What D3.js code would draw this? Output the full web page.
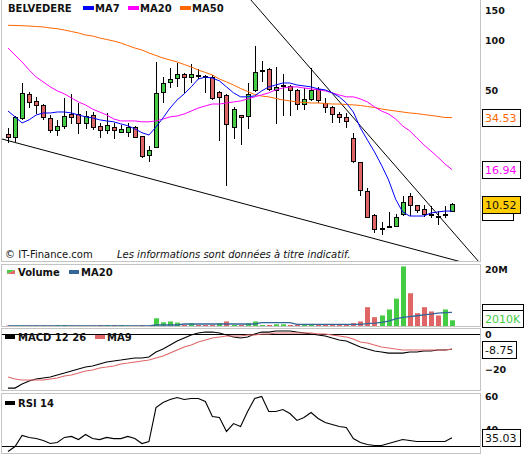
<!DOCTYPE html>
<html><head><meta charset="utf-8">
<script src="https://cdn.jsdelivr.net/npm/d3@7"></script>
<style>
body{margin:0;background:#fff}
svg{display:block}
text{font-family:"DejaVu Sans",Verdana,sans-serif}
</style>
</head><body>
<svg id="c" width="530" height="464"></svg>
<script>
// ---------- data ----------
const title = "BELVEDERE";
const opens  = [27.6,26.5,34.4,47.7,43.4,41.0,34.4,29.1,30.8,36.3, 36.3,32.0,35.8,30.8,29.1,30.4,28.4,28.4,30.4,26.8, 20.7,23.1,49.0,56.3,59.4,62.8,60.2,62.0,61.1,60.2, 49.0,47.1,30.4,35.8,35.3,50.4,66.3,67.2,50.4,54.0, 53.3,50.4,41.6,44.6,51.1,42.2,40.0,36.3,34.8,26.1, 18.8,12.6,9.10,7.62,7.83,7.83,9.22,11.8,10.4,9.87, 9.20,8.97,9.22,9.61];
const highs  = [30.0,35.2,55.5,49.0,45.8,41.6,35.8,33.4,45.2,47.7, 42.2,37.8,37.3,32.0,36.8,32.0,31.2,32.0,30.8,27.0, 23.4,74.0,60.2,68.1,73.0,63.5,72.0,67.0,62.0,62.0, 49.5,48.0,40.0,35.8,55.5,92.0,75.0,68.0,69.0,62.8, 54.0,51.0,51.8,68.1,52.6,45.2,40.5,37.3,36.8,27.9, 18.8,13.2,9.2,8.27,9.5,9.22,11.8,12.3,10.4,10.4, 10.3,9.6,10.3,10.65];
const lows   = [24.7,25.0,34.0,40.0,36.8,33.8,28.4,27.2,30.0,32.0, 28.0,30.0,29.5,26.5,28.0,26.1,28.4,26.8,26.5,20.2, 19.0,23.0,42.8,52.6,53.3,49.0,56.3,59.4,49.0,44.5, 25.4,13.7,26.1,24.0,30.0,50.0,57.0,50.4,32.0,35.8, 35.8,38.9,38.9,44.0,43.0,37.3,32.5,32.5,30.4,18.8, 11.9,8.8,7.22,7.0,7.7,7.83,9.1,9.1,9.5,8.97, 8.85,8.05,8.85,9.61];
const closes = [26.5,34.8,48.4,42.8,41.0,34.8,29.1,30.8,35.3,35.0, 32.0,35.3,30.4,29.1,31.2,29.1,29.5,30.4,26.5,20.4, 22.2,48.4,55.5,58.6,62.8,60.2,62.8,62.0,61.1,45.2, 45.8,31.6,38.9,34.8,47.7,64.5,66.3,51.1,52.6,54.0, 50.4,41.6,44.6,50.4,44.0,40.0,36.3,34.8,33.0,19.0, 12.8,8.85,7.52,7.62,7.83,8.85,10.9,10.4,9.74,9.22, 9.20,8.97,9.22,10.52];

const ma7  = [37.8,34.9,32.1,33.5,35.8,36.8,36.8,37.3,37.3,36.8, 35.8,34.9,34.4,33.5,33.0,32.6,31.7,30.9,29.6,28.1, 27.2,30.4,34.4,39.4,44.0,47.8,52.6,58.6,60.2,59.4, 57.1,52.6,48.5,45.9,45.9,46.5,49.8,52.6,54.0,55.5, 55.5,54.0,53.3,52.6,51.2,50.5,48.5,45.9,42.2,37.3, 30.0,25.4,21.6,18.0,14.7,11.3,9.48,8.97,8.97,8.97, 9.35,9.48,9.60,9.60];
const ma20 = [89.6,81.4,74.0,66.3,60.2,56.3,52.6,49.8,47.8,45.2, 42.8,41.1,38.8,37.3,35.8,33.9,33.0,33.0,33.0,32.6, 32.6,33.0,33.9,34.9,35.3,36.3,37.8,39.4,40.5,41.6, 41.6,42.2,42.8,43.4,44.6,45.9,47.1,48.5,50.5,51.8, 52.6,52.6,51.8,51.2,50.5,49.8,48.5,47.1,45.9,45.9, 44.6,42.8,40.0,37.8,36.3,33.9,30.8,28.8,26.2,23.8, 21.9,20.1,18.3,16.94];
const ma50 = [122.3,122.0,121.6,121.1,120.3,119.5,117.9,116.7,114.7,112.3, 110.1,107.1,105.6,102.8,100.7,98.6,96.0,92.7,89.6,87.2, 83.7,80.9,78.1,76.0,74.0,71.5,69.1,66.3,64.1,61.9, 58.6,56.3,54.0,51.5,49.4,47.4,46.4,45.9,44.9,44.0, 43.4,42.8,42.5,42.2,42.2,41.9,41.6,41.6,41.3,41.1, 40.8,40.2,39.7,38.9,38.3,37.8,37.3,36.8,36.5,36.0, 35.6,35.1,34.6,34.53];

const volumes = [0.15,0.15,0.15,0.15,0.15,0.15,0.15,0.35,0.35,0.15, 0.15,0.15,0.15,0.35,0.35,0.35,0.35,0.15,0.15,0.35, 0.15,2.7,1.3,1.6,1.2,0.35,0.9,0.35,0.35,0.35, 0.9,1.6,0.35,0.35,0.9,1.6,0.35,0.35,0.6,0.6, 0.35,0.35,0.35,0.35,0.35,0.35,0.35,0.35,0.35,1.0, 1.6,6.6,3.1,3.7,5.8,9.6,20.9,11.5,4.5,6.6, 5.1,3.7,5.8,2.01]; // millions
const volMA20 = [0.02,0.02,0.02,0.02,0.02,0.02,0.02,0.02,0.02,0.02, 0.02,0.02,0.02,0.02,0.02,0.02,0.02,0.02,0.02,0.02, 0.02,0.35,0.35,0.35,0.35,0.7,0.7,0.7,0.7,0.7, 0.7,0.7,0.7,0.7,0.7,0.7,1.15,1.15,1.15,1.15, 1.15,0.6,0.6,0.6,0.6,0.6,0.6,0.6,0.6,0.6, 0.6,0.85,1.0,1.3,1.7,2.5,3.0,3.3,3.6,3.9, 4.2,4.5,4.7,4.8];

const macd   = [-30.9,-30.9,-28.6,-26.9,-25.7,-25.1,-24.6,-23.4,-22.3,-21.1, -20.0,-18.9,-18.3,-17.1,-16.0,-15.4,-14.9,-14.3,-13.7,-13.7, -13.1,-10.3,-8.6,-6.3,-4.0,-2.3,-0.6,0.6,1.1,1.1, 0.6,-0.6,-1.7,-2.3,-1.7,0.0,1.1,1.1,1.7,1.7, 1.7,1.1,0.6,0.0,-0.6,-1.1,-2.3,-3.4,-4.0,-5.7, -7.4,-8.6,-9.7,-10.3,-10.9,-10.9,-10.9,-10.3,-10.3,-9.7, -9.7,-9.1,-9.1,-8.75];
const macdMA9 = [-24.6,-25.7,-26.3,-26.3,-26.3,-26.3,-25.7,-25.1,-24.0,-23.4, -22.3,-21.1,-20.6,-19.4,-18.9,-18.3,-17.1,-16.6,-16.0,-15.4, -14.9,-13.7,-12.6,-10.9,-9.1,-7.4,-6.3,-4.6,-3.4,-2.3, -1.7,-1.1,-1.1,-1.1,-0.6,-0.6,0.0,0.0,0.6,0.6, 0.6,0.6,0.6,0.6,0.0,0.0,-0.6,-1.1,-1.7,-2.9, -4.6,-5.1,-6.3,-7.4,-8.0,-8.6,-9.1,-9.1,-9.1,-9.1, -9.1,-9.1,-9.1,-8.6];
const rsi14 = [26.7,29.7,36.4,35.2,34.5,33.3,31.5,32.1,35.2,35.8, 33.9,37.0,34.5,33.9,35.2,34.5,34.5,35.8,34.5,31.5, 32.7,53.3,56.4,58.2,59.4,58.2,58.8,58.8,57.0,47.9, 47.3,38.8,43.6,41.8,50.9,58.8,60.0,50.9,50.9,52.1, 49.7,45.5,47.3,50.3,46.7,44.2,43.0,41.8,41.2,34.5, 32.1,30.9,30.3,30.3,31.5,32.7,33.9,33.3,32.7,32.7, 32.7,32.7,32.7,35.03];

const priceTicks = [150,100,50];
const volTicks = [20];
const macdTicks = [0,-20];
const rsiTicks = [60,40];
const supportLine = [[0,25.2],[63,4.95]];
const resistanceLine = [[35,163],[63,7.31]];

// ---------- layout ----------
const svg = d3.select('#c');
const L = 1.5, R = 480.5;
const P = {main:[-1,261.5], vol:[264.5,326.5], macd:[328.5,390.5], rsi:[393.5,453.5]};
const GREEN = '#44cc44', RED = '#e06666';

const x = d3.scaleLinear().domain([0, closes.length-1]).range([8, 452]);
const px = i => Math.round(x(i));
const yP = d3.scaleLog().domain([50,100]).range([90.6,40]);
const yV = d3.scaleLinear().domain([0,20]).range([326,269]);
const yM = d3.scaleLinear().domain([-20,0]).range([369,334]);
const yR = d3.scaleLinear().domain([30,60]).range([446,396.5]);

const defs = svg.append('defs');
Object.entries(P).forEach(([k,[t,b]])=>{
  defs.append('clipPath').attr('id','clip-'+k).append('rect')
    .attr('x',L+0.5).attr('y',t+0.5).attr('width',R-L-1).attr('height',b-t-1);
});
// frames
Object.values(P).forEach(([t,b])=>{
  svg.append('rect').attr('x',L).attr('y',t).attr('width',R-L).attr('height',b-t)
    .attr('fill','none').attr('stroke','#c4c4c4').attr('stroke-width',1);
});

// ---------- main panel ----------
const gm = svg.append('g').attr('clip-path','url(#clip-main)');
function extLine(g, pts, yS){
  const [a,b] = pts;
  const x1=x(a[0]), y1=yS(a[1]), x2=x(b[0]), y2=yS(b[1]);
  const m=(y2-y1)/(x2-x1);
  g.append('line').attr('x1',0).attr('y1',y1-m*x1).attr('x2',490).attr('y2',y1+m*(490-x1))
    .attr('stroke','#000').attr('stroke-width',1);
}
extLine(gm, supportLine, yP);
extLine(gm, resistanceLine, yP);

// candles
const cg = gm.append('g').attr('shape-rendering','crispEdges');
closes.forEach((c,i)=>{
  const o=opens[i], cx=px(i)+0.5;
  cg.append('line').attr('x1',cx).attr('x2',cx)
    .attr('y1',Math.round(yP(highs[i]))).attr('y2',Math.round(yP(lows[i]))+1)
    .attr('stroke','#000');
  const top=Math.round(yP(Math.max(o,c))), bot=Math.round(yP(Math.min(o,c)));
  if (bot-top < 1) {
    cg.append('rect').attr('x',px(i)-2).attr('y',top).attr('width',5).attr('height',2).attr('fill','#000');
  } else {
    cg.append('rect').attr('x',px(i)-1.5).attr('y',top+0.5).attr('width',4).attr('height',bot-top)
      .attr('fill', c>o?GREEN:RED).attr('stroke','#000').attr('stroke-width',1);
  }
});
const lineP = d3.line().x((d,i)=>x(i)).y(d=>yP(d));
[[ma50,'#ff6600'],[ma20,'#ff00ff'],[ma7,'#0000ff']].forEach(([arr,col])=>{
  gm.append('path').attr('d',lineP(arr)).attr('fill','none').attr('stroke',col).attr('stroke-width',1);
});

// main legend
const lg = svg.append('g').style('font-size','10px').style('font-weight','bold');
lg.append('text').attr('x',8).attr('y',12).text(title).attr('fill','#111');
[['MA7','#0000ff',83],['MA20','#ff00ff',128],['MA50','#ff6600',180]].forEach(([t,c,x0])=>{
  lg.append('rect').attr('x',x0).attr('y',6).attr('width',11).attr('height',4).attr('fill',c);
  lg.append('text').attr('x',x0+12).attr('y',12).text(t).attr('fill','#111');
});
svg.append('text').attr('x',5).attr('y',258).style('font-size','10px').attr('fill','#111')
  .text('© IT-Finance.com');
svg.append('text').attr('x',117).attr('y',258).style('font-size','10px').style('font-style','italic').attr('fill','#111')
  .text('Les informations sont données à titre indicatif.');

// ---------- volume panel ----------
const gv = svg.append('g').attr('clip-path','url(#clip-vol)');
volumes.forEach((v,i)=>{
  const up = i>0 ? closes[i]>closes[i-1] : closes[i]>opens[i];
  const yt = yV(v);
  gv.append('rect').attr('x',px(i)-2).attr('y',yt).attr('width',5).attr('height',yV(0)-yt)
    .attr('fill', up?GREEN:RED);
});
gv.append('path').attr('d',d3.line().x((d,i)=>x(i)).y(d=>yV(d))(volMA20))
  .attr('fill','none').attr('stroke','#336699').attr('stroke-width',1.3);
const vl = svg.append('g').style('font-size','10px').style('font-weight','bold');
vl.append('path').attr('d','M7,270L15,270L7,274Z').attr('fill',GREEN);
vl.append('path').attr('d','M15,270L15,274L7,274Z').attr('fill',RED);
vl.append('text').attr('x',18).attr('y',276).text('Volume').attr('fill','#111');
vl.append('rect').attr('x',69).attr('y',270).attr('width',10).attr('height',4).attr('fill','#336699');
vl.append('text').attr('x',81).attr('y',276).text('MA20').attr('fill','#111');

// ---------- MACD panel ----------
const gc = svg.append('g').attr('clip-path','url(#clip-macd)');
gc.append('line').attr('x1',L).attr('x2',R).attr('y1',Math.round(yM(0))+0.5).attr('y2',Math.round(yM(0))+0.5).attr('stroke','#000');
gc.append('path').attr('d',d3.line().x((d,i)=>x(i)).y(d=>yM(d))(macd)).attr('fill','none').attr('stroke','#000').attr('stroke-width',1.1);
gc.append('path').attr('d',d3.line().x((d,i)=>x(i)).y(d=>yM(d))(macdMA9)).attr('fill','none').attr('stroke',RED).attr('stroke-width',1.1);
const ml = svg.append('g').style('font-size','10px').style('font-weight','bold');
ml.append('rect').attr('x',5).attr('y',335).attr('width',10).attr('height',4).attr('fill','#000');
ml.append('text').attr('x',18).attr('y',341).text('MACD 12 26').attr('fill','#111');
ml.append('rect').attr('x',95).attr('y',335).attr('width',10).attr('height',4).attr('fill',RED);
ml.append('text').attr('x',107).attr('y',341).text('MA9').attr('fill','#111');

// ---------- RSI panel ----------
const gr = svg.append('g').attr('clip-path','url(#clip-rsi)');
gr.append('line').attr('x1',L).attr('x2',R).attr('y1',Math.round(yR(30))+0.5).attr('y2',Math.round(yR(30))+0.5).attr('stroke','#000');
gr.append('path').attr('d',d3.line().x((d,i)=>x(i)).y(d=>yR(d))(rsi14)).attr('fill','none').attr('stroke','#000').attr('stroke-width',1.1);
const rl = svg.append('g').style('font-size','10px').style('font-weight','bold');
rl.append('rect').attr('x',5).attr('y',401).attr('width',10).attr('height',4).attr('fill','#000');
rl.append('text').attr('x',18).attr('y',407).text('RSI 14').attr('fill','#111');

// ---------- right axes ----------
function axis(scale, ticks, fmt){
  const g = svg.append('g').attr('transform','translate(481,0)')
    .call(d3.axisRight(scale).tickValues(ticks).tickSize(0).tickPadding(4).tickFormat(fmt));
  g.select('.domain').remove();
  g.selectAll('text').style('font-family','"DejaVu Sans",Verdana,sans-serif')
    .style('font-size','9.5px').style('font-weight','bold').attr('fill','#111');
}
axis(yP, priceTicks, d3.format('d'));
axis(yV, volTicks, d=>d+'M');
axis(yM, macdTicks, d3.format('d'));
axis(yR, rsiTicks, d3.format('d'));

// ---------- value boxes ----------
function box(yc, txt, color, fill, bottom, hideText){
  const h=17;
  let top = yc - h/2;
  if (bottom!=null && top+h>bottom) top = bottom-h;
  top = Math.round(top)+0.5;
  const g = svg.append('g');
  const t = g.append('text').attr('x',485).attr('y',top+h/2).attr('dy','0.36em')
    .style('font-size','11px').attr('fill',color).text(txt);
  const w = Math.round(t.node().getComputedTextLength()+6);
  g.insert('rect','text').attr('x',482.5).attr('y',top).attr('width',w).attr('height',h)
    .attr('fill',fill).attr('stroke','#000').attr('stroke-width',1);
  if (hideText) t.remove();
}
const last = closes.length-1;
box(yP(ma50[last]), ma50[last].toFixed(2), '#ff6600', '#fff');
box(yP(ma20[last]), ma20[last].toFixed(2), '#ff00ff', '#fff');
box(yP(ma7[last]), ma7[last].toFixed(2), '#0000ff', '#fff', null, true);
box(yP(closes[last]), closes[last].toFixed(2), '#111', '#ffcc00');
box(yV(volMA20[last]), Math.round(volMA20[last]*1000)+'K', '#336699', '#fff', P.vol[1], true);
box(yV(volumes[last]), Math.round(volumes[last]*1000)+'K', GREEN, '#fff', P.vol[1]);
box(yM(macd[last]), macd[last].toFixed(2), '#111', '#fff');
box(yR(rsi14[last]), rsi14[last].toFixed(2), '#111', '#fff');
</script>
</body></html>
